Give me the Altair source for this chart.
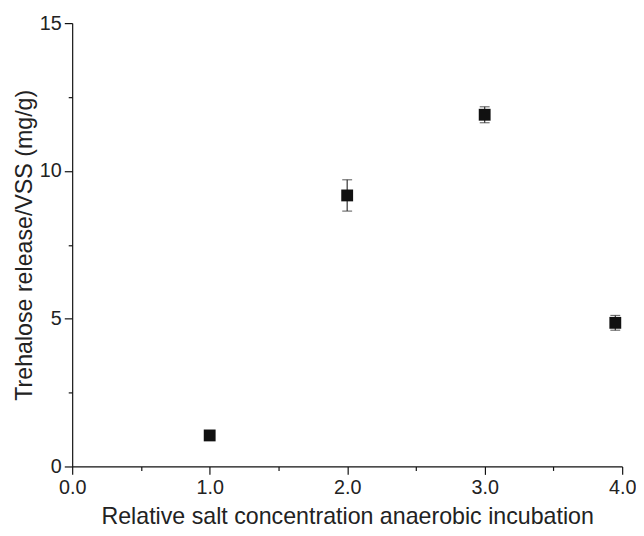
import altair as alt
import pandas as pd

# data
salt = [1.0, 2.0, 3.0, 3.95]
trehalose = [1.05, 9.17, 11.9, 4.86]
err = [0.0, 0.53, 0.27, 0.25]

df = pd.DataFrame({
    "salt": salt,
    "val": trehalose,
    "lo": [v - e for v, e in zip(trehalose, err)],
    "hi": [v + e for v, e in zip(trehalose, err)],
})
df_err = df[df["hi"] > df["lo"]]

FONT = "Liberation Sans"
TXT = "#222222"

x_ticks = [0, 0.5, 1, 1.5, 2, 2.5, 3, 3.5, 4]
y_ticks = [0, 2.5, 5, 7.5, 10, 12.5, 15]

x_enc = alt.X(
    "salt:Q",
    scale=alt.Scale(domain=[0, 4], nice=False, zero=False),
    axis=alt.Axis(
        title="Relative salt concentration anaerobic incubation",
        values=x_ticks,
        labelExpr="datum.value % 1 === 0 ? format(datum.value, '.1f') : ''",
        tickSize={"condition": {"test": "datum.value % 1 === 0", "value": 8}, "value": 4},
        labelPadding=3,
        titleY=58,
        titleBaseline="alphabetic",
        labelFlush=False,
    ),
)
y_scale = alt.Scale(domain=[0, 15], nice=False)
y_axis = alt.Axis(
    title="Trehalose release/VSS (mg/g)",
    values=y_ticks,
    labelExpr="datum.value % 5 === 0 ? format(datum.value, 'd') : ''",
    tickSize={"condition": {"test": "datum.value % 5 === 0", "value": 8}, "value": 4},
    labelPadding=3,
    titlePadding=3,
    labelFlush=False,
)

bars = alt.Chart(df_err).mark_errorbar(
    ticks={"size": 10, "color": "#333333", "thickness": 1.2},
    color="#333333",
    thickness=1.2,
).encode(
    x=x_enc,
    y=alt.Y("lo:Q", scale=y_scale, axis=y_axis),
    y2="hi:Q",
)

pts = alt.Chart(df).mark_square(size=144, color="#111111", opacity=1, filled=True).encode(
    x=x_enc,
    y=alt.Y("val:Q", scale=y_scale, axis=y_axis),
)

chart = alt.layer(bars, pts).properties(
    width=557,
    height=449,
    autosize=alt.AutoSizeParams(type="none"),
    padding={"left": 65, "top": 12, "right": 14, "bottom": 59},
).configure_view(
    stroke=None
).configure_axis(
    grid=False,
    domainColor="#111111",
    domainWidth=1.2,
    tickColor="#111111",
    tickWidth=1.2,
    labelFont=FONT,
    labelFontSize=20,
    labelColor=TXT,
    titleFont=FONT,
    titleFontSize=23.5,
    titleFontWeight="normal",
    titleColor=TXT,
)

chart.save("out.html", embed_options={"renderer": "svg", "actions": False})
